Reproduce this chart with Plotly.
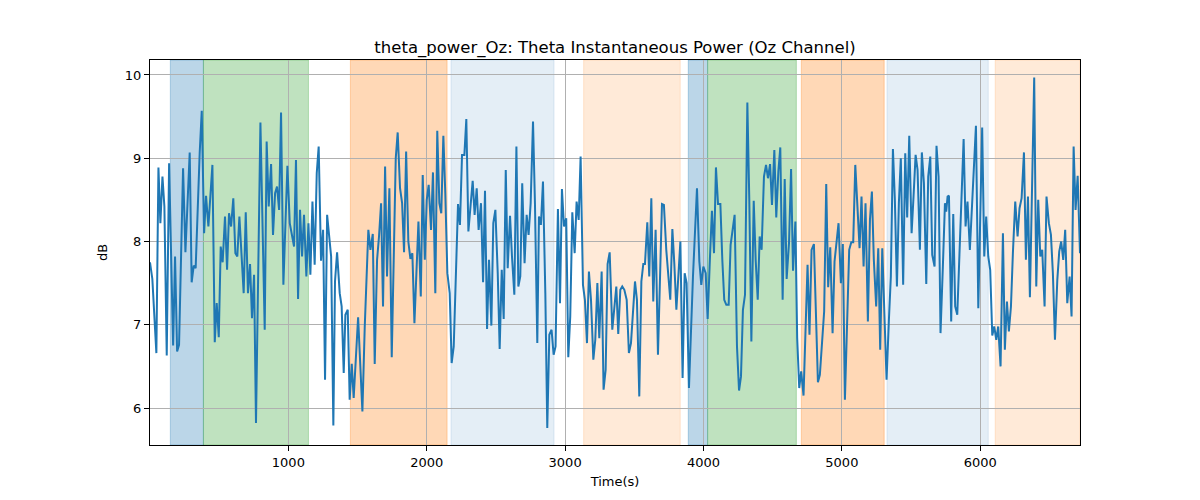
import plotly.graph_objects as go

# time axis (seconds) and theta power (dB)
time_s = [
    0, 17, 46, 61, 75, 90, 104, 121, 138, 152, 167, 181, 196, 210, 224, 239, 256, 272, 287, 301,
    316, 330, 345, 359, 374, 391, 405, 422, 436, 451, 468, 482, 497, 511, 525, 542, 557, 571, 586, 602,
    617, 631, 646,
    677, 692, 708, 723, 737, 752, 766, 798, 829, 843, 858, 875, 889, 904, 918, 933, 947, 964, 993, 1010,
    1029, 1041, 1055, 1070, 1084, 1099, 1113, 1130, 1145, 1159, 1174, 1190, 1205, 1219, 1236, 1251, 1265,
    1280, 1309, 1325,
    1337, 1352, 1371, 1385, 1400, 1412, 1429, 1443, 1458, 1472, 1504, 1535, 1552, 1566, 1578, 1593, 1610,
    1624, 1641, 1655, 1670, 1684, 1699, 1713, 1730, 1747, 1761, 1776, 1790, 1807, 1822, 1836, 1851, 1867,
    1882, 1896, 1911, 1925, 1940, 1957, 1971, 1986, 2000,
    2014, 2031, 2045, 2062, 2076, 2091, 2105, 2120, 2134, 2149, 2166, 2180, 2195, 2211, 2226, 2240, 2255,
    2272, 2286, 2301, 2317, 2332, 2346, 2361, 2375, 2392, 2407, 2421, 2436, 2450, 2467, 2481, 2496, 2513,
    2527, 2542, 2556, 2571, 2585, 2602, 2616, 2633, 2648, 2662,
    2676, 2690, 2707, 2722, 2736, 2751, 2768, 2782, 2799, 2811, 2825, 2840, 2857, 2871, 2886, 2902, 2917,
    2931, 2948, 2963, 2977, 2992, 3008, 3023, 3037, 3052, 3069, 3083, 3098, 3112, 3129, 3143, 3158, 3172,
    3187, 3204, 3218, 3233, 3247, 3264, 3278, 3293, 3307, 3322,
    3341, 3370, 3384, 3399, 3413, 3428, 3445, 3461, 3476, 3505, 3519, 3536, 3551, 3565, 3577, 3594, 3608,
    3623, 3637, 3654, 3671, 3686, 3700, 3714, 3731, 3760, 3775, 3789, 3804, 3833, 3849, 3864, 3878, 3895,
    3924, 3953, 3970, 3984, 3999,
    4016, 4030, 4047, 4061, 4076, 4090, 4105, 4122, 4136, 4150, 4165, 4182, 4196, 4211, 4225, 4242, 4257,
    4271, 4285, 4300, 4317, 4331, 4346, 4363, 4377, 4392, 4406, 4420, 4437, 4452, 4466, 4481, 4495, 4512,
    4526, 4541, 4555, 4572, 4587, 4601, 4618, 4633, 4647, 4664,
    4677, 4692, 4706, 4723, 4737, 4752, 4766, 4781, 4798, 4812, 4827, 4841, 4855, 4872, 4887, 4901, 4916,
    4933, 4947, 4962, 4976, 4993, 5007, 5022, 5036, 5053, 5068, 5082, 5097, 5113, 5128, 5142, 5157, 5171,
    5188, 5203, 5217, 5231, 5248, 5263, 5277, 5292, 5309, 5323,
    5340, 5354, 5369, 5383, 5398, 5412, 5426, 5443, 5458, 5472, 5487, 5504, 5518, 5533, 5547, 5564, 5578,
    5593, 5610, 5624, 5639, 5653, 5670, 5684, 5699, 5713, 5730, 5745, 5754, 5764, 5774, 5790, 5805, 5819,
    5834, 5851, 5865, 5880, 5894, 5908, 5925, 5940, 5954, 5969, 5986,
    6014, 6029, 6043, 6058, 6072, 6087, 6101, 6116, 6130, 6147, 6164, 6178, 6193, 6207, 6222, 6236, 6253,
    6270, 6284, 6299, 6316, 6330, 6345, 6359, 6373, 6390, 6405, 6419, 6434, 6448, 6465, 6479, 6496, 6511,
    6525, 6540, 6557, 6571, 6585, 6600, 6614, 6629, 6646, 6660, 6675, 6689, 6704, 6721,
]

power_db = [
    7.75, 7.55, 6.66, 8.89, 8.22, 8.78, 8.42, 6.63, 8.94, 7.86, 6.75, 7.82, 6.68, 6.76, 7.78, 8.88, 7.87, 8.58, 9.07, 7.51,
    7.71, 7.68, 8.50, 9.06, 9.57, 8.10, 8.55, 8.18, 8.54, 8.92, 6.79, 7.26, 6.85, 7.94, 7.75, 8.30, 7.66, 8.34, 8.18, 8.52,
    7.86, 7.82, 8.30,
    7.38, 8.35, 7.38, 7.73, 7.08, 7.60, 5.82, 9.43, 6.94, 9.20, 8.42, 8.93, 8.08, 8.58, 8.66, 8.38, 9.55, 7.48, 8.91, 8.22,
    8.02, 7.94, 8.98, 7.31, 8.38, 7.82, 8.32, 7.58, 8.22, 7.60, 8.48, 7.72, 8.82, 9.14, 7.77, 8.14, 6.34,
    8.32, 7.82, 5.79,
    7.52, 7.87, 7.38, 7.22, 6.42, 7.12, 7.18, 6.10, 6.53, 6.12, 7.09, 5.96, 6.98, 7.58, 8.14, 7.90, 8.09,
    6.53, 7.78, 8.06, 8.46, 7.22, 8.90, 7.58, 8.64, 6.61, 8.02, 9.00, 9.31, 8.64, 8.46, 7.87, 9.08, 8.00,
    7.79, 7.86, 7.02, 7.58, 8.24, 7.34, 8.80, 7.78, 8.50,
    8.68, 8.14, 8.83, 7.38, 9.33, 8.46, 8.34, 9.27, 8.58, 7.62, 7.38, 6.54, 6.74, 7.58, 8.45, 8.20, 9.04,
    9.04, 9.47, 8.12, 8.46, 8.73, 8.32, 8.64, 8.14, 8.46, 7.51, 8.61, 6.95, 7.78, 6.99, 8.22, 8.38, 7.62,
    6.71, 7.66, 7.07, 8.86, 7.68, 8.31, 7.82, 7.36, 9.14, 7.46,
    7.58, 8.70, 7.74, 8.32, 8.08, 8.46, 9.44, 8.46, 6.78, 8.30, 8.20, 8.72, 7.38, 5.76, 6.88, 6.94, 6.64,
    6.74, 8.39, 7.26, 8.63, 8.18, 8.28, 6.61, 7.10, 8.35, 7.86, 8.48, 8.26, 9.02, 7.48, 7.30, 6.78, 7.64,
    7.30, 6.58, 6.82, 7.50, 6.84, 7.64, 6.22, 6.46, 7.73, 7.87,
    6.94, 7.46, 6.89, 7.42, 7.46, 7.42, 7.30, 6.66, 6.78, 7.52, 7.30, 6.14, 7.52, 7.73, 7.73, 8.23, 7.58,
    8.52, 7.28, 8.14, 6.64, 7.54, 8.45, 8.44, 7.90, 7.30, 8.15, 7.74, 7.18, 8.00, 6.36, 7.62, 7.50, 6.24,
    7.58, 8.64, 7.76, 7.48, 7.70,
    7.62, 7.07, 7.82, 8.37, 7.86, 8.89, 8.45, 8.45, 7.78, 7.30, 7.24, 7.24, 7.96, 8.14, 8.32, 6.74, 6.21,
    6.38, 7.18, 7.36, 9.67, 8.50, 6.80, 8.49, 7.78, 7.30, 8.06, 7.90, 8.78, 8.92, 8.76, 8.93, 8.44, 9.10,
    8.29, 8.84, 9.13, 7.30, 8.75, 7.55, 7.98, 8.87, 7.65, 8.24,
    6.84, 6.24, 6.44, 6.15, 6.90, 7.72, 6.88, 7.90, 7.97, 7.14, 6.31, 6.40, 6.74, 7.16, 8.69, 7.45, 7.93,
    6.90, 7.76, 8.00, 8.22, 7.50, 7.97, 6.10, 7.02, 7.90, 7.99, 7.99, 8.92, 8.32, 7.92, 8.54, 7.70, 8.46,
    7.04, 8.26, 8.60, 7.78, 7.22, 7.92, 6.70, 7.92, 7.06, 6.34,
    7.06, 7.58, 9.11, 8.50, 7.46, 8.46, 9.00, 7.48, 9.06, 8.29, 9.27, 8.10, 8.54, 9.04, 8.86, 7.90, 9.07,
    8.70, 7.49, 8.78, 9.02, 7.84, 7.70, 9.15, 8.78, 6.90, 7.70, 8.46, 8.36, 8.54, 8.55, 7.04, 8.33, 7.22,
    7.12, 7.86, 8.42, 9.23, 8.18, 8.48, 7.90, 8.38, 8.90, 9.39, 7.20,
    9.37, 7.82, 8.30, 7.82, 7.66, 6.87, 6.98, 6.82, 6.98, 6.50, 8.10, 6.70, 7.28, 6.92, 7.22, 7.86, 8.48,
    8.06, 8.40, 8.52, 9.07, 7.78, 8.54, 7.33, 8.38, 9.97, 7.46, 8.50, 7.82, 7.90, 7.22, 8.54, 8.22, 8.08,
    7.62, 6.82, 7.54, 7.88, 8.00, 7.78, 8.14, 7.26, 7.58, 7.10, 9.14, 8.38, 8.79, 7.86,
]

# shaded segments (start, end in seconds) and their fill colours
band_start = [147, 386, 1448, 2175, 3134, 3890, 4030, 4707, 5326, 6108]
band_end = [386, 1145, 2147, 2920, 3832, 4030, 4671, 5306, 6058, 6721]
band_color = [
    "rgba(31,119,180,0.3)", "rgba(44,160,44,0.3)", "rgba(255,127,14,0.3)",
    "rgba(31,119,180,0.12)", "rgba(255,127,14,0.16)",
    "rgba(31,119,180,0.3)", "rgba(44,160,44,0.3)", "rgba(255,127,14,0.3)",
    "rgba(31,119,180,0.12)", "rgba(255,127,14,0.16)",
]

fig = go.Figure()

for x0, x1, c in zip(band_start, band_end, band_color):
    fig.add_vrect(x0=x0, x1=x1, fillcolor=c, line=dict(color=c, width=1), layer="below")

fig.add_scatter(x=time_s, y=power_db, mode="lines",
        line=dict(color="#1f77b4", width=2),
        showlegend=False
        )

axis_style = dict(
    showline=True, linecolor="black", linewidth=1, mirror=True,
    showgrid=True, gridcolor="#b0b0b0", gridwidth=0.8,
    ticks="outside", ticklen=5, tickcolor="black",
    zeroline=False,
    tickfont=dict(family="DejaVu Sans", size=13, color="black"),
)

# the page puts the figure 8px in from the top-left corner, so size and margins allow for that
fig.update_layout(
    width=1192, height=492,
    margin=dict(l=142, r=120, t=52, b=55),
    plot_bgcolor="white", paper_bgcolor="white",
    font=dict(family="DejaVu Sans", color="black"),
    title=dict(text="theta_power_Oz: Theta Instantaneous Power (Oz Channel)",
               x=0.5, xref="paper", xanchor="center",
               y=0.921, yref="container", yanchor="middle",
               font=dict(family="DejaVu Sans", size=16.5, color="black")),
    xaxis=dict(range=[0, 6721], tickvals=[1000, 2000, 3000, 4000, 5000, 6000],
               title=dict(text="Time(s)", standoff=8, font=dict(size=13)), **axis_style),
    yaxis=dict(range=[5.556, 10.18], tickvals=[6, 7, 8, 9, 10],
               title=dict(text="dB", standoff=14, font=dict(size=13)), **axis_style),
)

fig.write_html("out.html")
